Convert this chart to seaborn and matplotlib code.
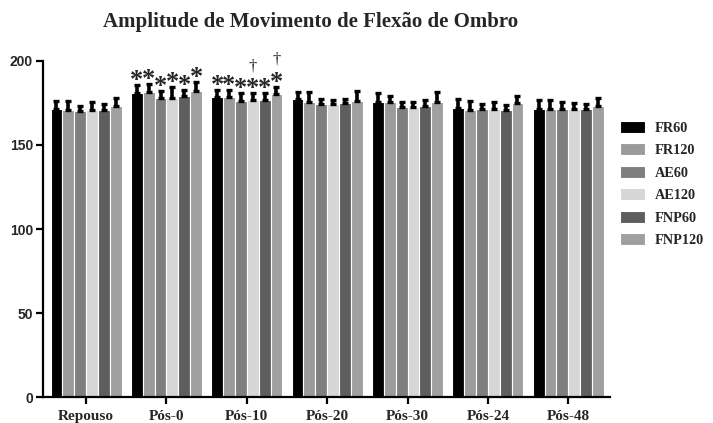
import numpy as np
import pandas as pd
import matplotlib
matplotlib.use("Agg")
import matplotlib.pyplot as plt
import seaborn as sns

tempos = ["Repouso", "Pós-0", "Pós-10", "Pós-20", "Pós-30", "Pós-24", "Pós-48"]
grupos = ["FR60", "FR120", "AE60", "AE120", "FNP60", "FNP120"]

FR60   = [171.4, 180.8, 178.3, 177.4, 175.4, 171.8, 171.4]
FR120  = [171.0, 181.3, 178.8, 175.8, 175.4, 170.8, 171.2]
AE60   = [170.4, 178.2, 176.4, 174.2, 172.4, 171.2, 171.2]
AE120  = [171.0, 177.8, 176.8, 174.4, 172.4, 171.2, 171.2]
FNP60  = [170.8, 179.0, 176.8, 174.8, 173.4, 170.8, 171.2]
FNP120 = [173.2, 182.0, 180.4, 176.4, 175.8, 174.8, 173.2]

FR60_err   = [5.0, 5.2, 4.4, 4.0, 5.4, 5.4, 5.4]
FR120_err  = [5.0, 5.0, 4.0, 5.5, 4.0, 5.6, 5.6]
AE60_err   = [3.0, 4.0, 4.4, 3.2, 3.4, 3.2, 4.4]
AE120_err  = [4.5, 7.0, 4.4, 2.4, 3.4, 4.6, 3.8]
FNP60_err  = [3.5, 3.7, 4.4, 2.6, 3.4, 3.0, 3.0]
FNP120_err = [5.0, 5.6, 4.3, 5.5, 5.5, 4.6, 5.0]

# significance marks
asteriscos = [(g, "Pós-0") for g in grupos] + [(g, "Pós-10") for g in grupos]
adagas = [("AE120", "Pós-10", 197.0), ("FNP120", "Pós-10", 201.0)]

cores = ["#000000", "#9b9b9b", "#7f7f7f", "#d6d6d6", "#5e5e5e", "#a0a0a0"]

valores = [FR60, FR120, AE60, AE120, FNP60, FNP120]
erros = [FR60_err, FR120_err, AE60_err, AE120_err, FNP60_err, FNP120_err]

rows = []
for g, vals in zip(grupos, valores):
    for t, v in zip(tempos, vals):
        rows.append({"tempo": t, "grupo": g, "valor": v})
df = pd.DataFrame(rows)

sns.set_style("white")
serif = ["Liberation Serif", "DejaVu Serif"]
sans = ["Liberation Sans", "DejaVu Sans"]

fig = plt.figure(figsize=(7.13, 4.23), dpi=100)
ax = fig.add_axes([42.7 / 713, (423 - 397) / 423, (610 - 42.7) / 713, (397 - 61) / 423])

sns.barplot(data=df, x="tempo", y="valor", hue="grupo", hue_order=grupos,
            order=tempos, palette=cores, errorbar=None, width=0.885,
            edgecolor="white", linewidth=0.8, saturation=1, ax=ax)

bar_conts = list(ax.containers)
tops = {}
for i, cont in enumerate(bar_conts):
    xs = np.array([p.get_x() + p.get_width() / 2 for p in cont.patches])
    hs = np.array([p.get_height() for p in cont.patches])
    err = np.array(erros[i])
    ax.errorbar(xs, hs, yerr=[np.zeros_like(err), err], fmt="none",
                ecolor="black", elinewidth=2.6, capsize=2.0, capthick=2.4, zorder=5)
    for j, t in enumerate(tempos):
        tops[(grupos[i], t)] = (xs[j], hs[j] + err[j])

for key in asteriscos:
    x, y = tops[key]
    ax.text(x, y - 1.3, "*", ha="center", va="baseline", fontsize=19,
            fontweight="bold", family=serif, clip_on=False, zorder=6)
for g, t, yy in adagas:
    x, _ = tops[(g, t)]
    ax.text(x, yy, "†", ha="center", va="center", fontsize=12,
            family=serif, clip_on=False, zorder=6)

ax.set_xlim(-0.54, 6.52)
ax.set_ylim(0, 200)
ax.set_yticks([0, 50, 100, 150, 200])
ax.set_xlabel("")
ax.set_ylabel("")
for s in ["top", "right"]:
    ax.spines[s].set_visible(False)
for s in ["left", "bottom"]:
    ax.spines[s].set_linewidth(1.6)
    ax.spines[s].set_color("black")
ax.tick_params(axis="both", direction="out", length=5, width=1.6, color="black",
               bottom=True, left=True)
ax.tick_params(axis="x", pad=4)
ax.tick_params(axis="y", pad=2)
for lab in ax.get_yticklabels():
    lab.set_fontfamily(sans)
    lab.set_fontweight("bold")
    lab.set_fontsize(10)
for lab in ax.get_xticklabels():
    lab.set_fontfamily(serif)
    lab.set_fontweight("bold")
    lab.set_fontsize(11)

fig.text(0.435, 0.948, "Amplitude de Movimento de Flexão de Ombro", ha="center",
         va="center", fontsize=15, fontweight="bold", family=serif)

if ax.get_legend() is not None:
    ax.get_legend().remove()
fig.legend(bar_conts, grupos, loc="upper left", bbox_to_anchor=(0.869, 0.714),
           frameon=False, prop={"family": serif, "weight": "bold", "size": 10.3},
           handlelength=1.75, handleheight=0.9, labelspacing=0.6, handletextpad=0.7,
           borderpad=0, borderaxespad=0)

fig.savefig("out.png", dpi=100)
